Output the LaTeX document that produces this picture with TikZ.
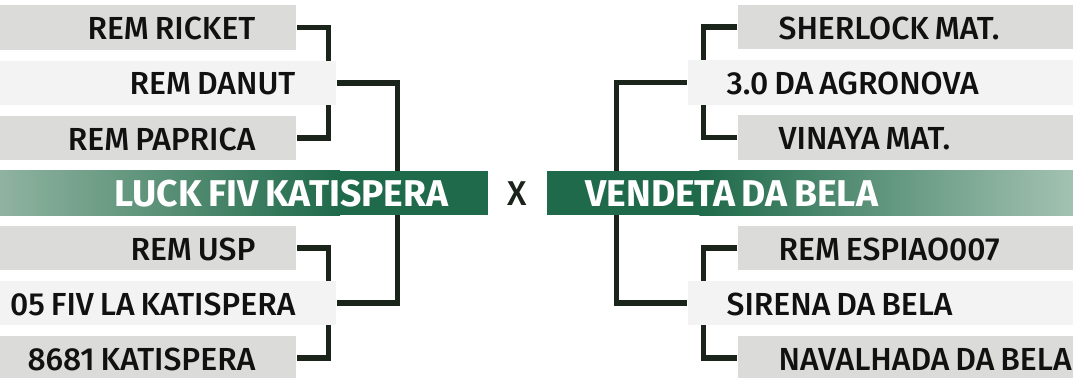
\documentclass[tikz,border=0pt]{standalone}
\usepackage{fontspec}
\setmainfont{Fira Sans Medium}[BoldFont={Fira Sans Bold},WordSpace=0.75]
\usepackage{tikz}
\usetikzlibrary{positioning,calc}
\definecolor{BarGray}{HTML}{DBDBD9}
\definecolor{BarPale}{HTML}{F3F3F3}
\definecolor{TeamGreen}{HTML}{1F6A4A}
\definecolor{TeamFadeL}{HTML}{8FB3A0}
\definecolor{TeamFadeR}{HTML}{A3C2B2}
\definecolor{LineDark}{HTML}{1B241B}
\definecolor{NameInk}{HTML}{111111}
\pgfdeclarelayer{background}
\pgfsetlayers{background,main}

\begin{document}
\begin{tikzpicture}[
  x=0.025cm, y=-0.025cm,
  bar/.style={rectangle,inner sep=0pt,minimum height=1.1cm,minimum width=#1},
  sirebar/.style={bar=#1,fill=BarGray},
  parentbar/.style={bar=#1,fill=BarPale},
  teambar/.style={bar=#1,fill=TeamGreen},
  horsename/.style={inner sep=0pt,text=NameInk,font=\fontsize{22.7}{26}\selectfont},
  teamname/.style={inner sep=0pt,text=white,font=\fontsize{26.5}{30}\selectfont\bfseries},
  versus/.style={inner sep=0pt,text=LineDark,font=\fontsize{24.5}{28}\selectfont},
  link/.style={draw=LineDark,line width=3.6pt,line join=miter}
]
\useasboundingbox (0,0) rectangle (1073,377);
\clip (0,0) rectangle (1073,377);

% Left side: Luck FIV Katispera
\node[sirebar=7.4cm,anchor=west] (ricket) at (0,27.5) {};
\node[parentbar=8.4cm,anchor=west] (danut) at (0,83) {};
\node[sirebar=7.4cm,anchor=west] (paprica) at (0,138) {};
\node[teambar=12.2cm,anchor=west] (luck) at (0,193) {};
\node[sirebar=7.4cm,anchor=west] (usp) at (0,248) {};
\node[parentbar=8.4cm,anchor=west] (fivla) at (0,303) {};
\node[sirebar=7.4cm,anchor=west] (katispera) at (0,358) {};
\shade[left color=TeamFadeL,right color=TeamGreen]
  (luck.north west) rectangle ($(luck.south west)+(340,0)$);

\node[horsename,anchor=east] (ricketname) at ($(ricket.east)+(-41,1)$) {REM RICKET};
\node[horsename,anchor=east] (danutname) at ($(danut.east)+(-41,1)$) {REM DANUT};
\node[horsename,anchor=east] (papricaname) at ($(paprica.east)+(-41,1)$) {REM PAPRICA};
\node[teamname,anchor=east] (luckname) at ($(luck.east)+(-40,1)$) {LUCK FIV KATISPERA};
\node[horsename,anchor=east] (uspname) at ($(usp.east)+(-41,1)$) {REM USP};
\node[horsename,anchor=east] (fivlaname) at ($(fivla.east)+(-41,1)$) {05 FIV LA KATISPERA};
\node[horsename,anchor=east] (katisperaname) at ($(katispera.east)+(-41,1)$) {8681 KATISPERA};

% Right side: Vendeta da Bela
\node[sirebar=8.375cm,anchor=east] (sherlock) at (1073,27) {};
\node[parentbar=9.625cm,anchor=east] (agronova) at (1073,82.5) {};
\node[sirebar=8.375cm,anchor=east] (vinaya) at (1073,137.5) {};
\node[teambar=13.15cm,anchor=east] (vendeta) at (1073,193) {};
\node[sirebar=8.375cm,anchor=east] (espiao) at (1073,248) {};
\node[parentbar=9.625cm,anchor=east] (sirena) at (1073,303) {};
\node[sirebar=8.375cm,anchor=east] (navalhada) at (1073,358) {};
\shade[left color=TeamGreen,right color=TeamFadeR]
  ($(vendeta.north west)+(153,0)$) rectangle (vendeta.south east);

\node[horsename,anchor=west] (sherlockname) at ($(sherlock.west)+(41,1)$) {SHERLOCK MAT.};
\node[horsename,anchor=west] (agronovaname) at ($(agronova.west)+(39,1)$) {3.0 DA AGRONOVA};
\node[horsename,anchor=west] (vinayaname) at ($(vinaya.west)+(41,1)$) {VINAYA MAT.};
\node[teamname,anchor=west] (vendetaname) at ($(vendeta.west)+(39,1)$) {VENDETA DA BELA};
\node[horsename,anchor=west] (espiaoname) at ($(espiao.west)+(41,1)$) {REM ESPIAO007};
\node[horsename,anchor=west] (sirenaname) at ($(sirena.west)+(39,1)$) {SIRENA DA BELA};
\node[horsename,anchor=west] (navalhadaname) at ($(navalhada.west)+(41,1)$) {NAVALHADA DA BELA};

\node[versus] (vs) at ($(luck.east)!0.5!(vendeta.west)+(0,1)$) {X};

% Pedigree links, kept behind the bars
\begin{pgfonlayer}{background}
\draw[link] (ricket.east) -- ++(31.5,0) |- (paprica.east);
\draw[link] (usp.east) -- ++(31.5,0) |- (katispera.east);
\draw[link] (danut.east) -- ++(60.5,0) |- (fivla.east);
\draw[link] (sherlock.west) -- ++(-34,0) |- (vinaya.west);
\draw[link] (espiao.west) -- ++(-34,0) |- (navalhada.west);
\draw[link] (agronova.west) -- ++(-71,0) |- (sirena.west);
\end{pgfonlayer}

\end{tikzpicture}
\end{document}
